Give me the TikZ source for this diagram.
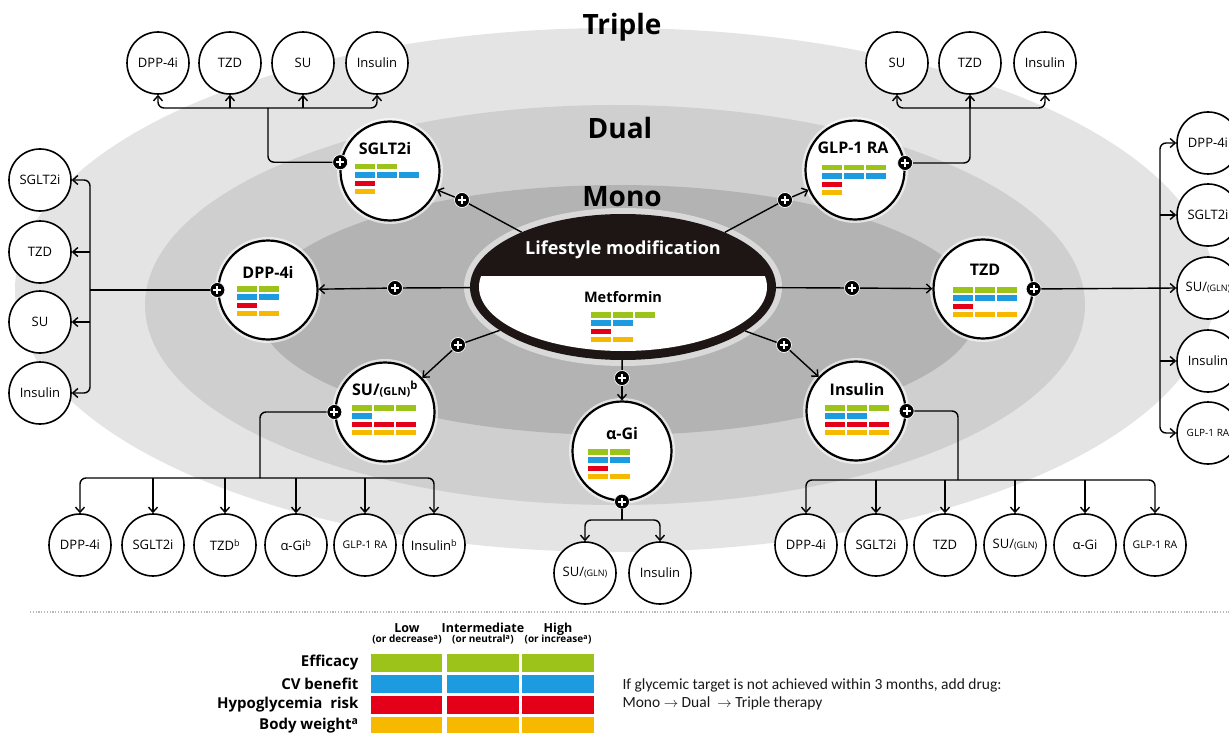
\documentclass[tikz,border=0pt]{standalone}
\usepackage{fontspec}
\setmainfont{Open Sans}
\newfontfamily\calib{Carlito}
\usetikzlibrary{arrows.meta,shapes.geometric}
\definecolor{cgreen}{HTML}{9CC31A}
\definecolor{cblue}{HTML}{1C9BE0}
\definecolor{cred}{HTML}{E5001A}
\definecolor{cyellow}{HTML}{F7B900}
\definecolor{gTriple}{HTML}{E4E4E4}
\definecolor{gDual}{HTML}{CFCFCF}
\definecolor{gMono}{HTML}{B3B3B3}
\definecolor{lmblack}{HTML}{1E1615}
\tikzset{
 maincirc/.style={circle, draw=black, line width=2.2pt, fill=white, minimum size=99pt, inner sep=0,
   preaction={draw=white, line width=7pt, opacity=0.6}},
 smallcirc/.style={circle, draw=black, line width=1.6pt, fill=white, minimum size=62pt, inner sep=0,
   font=\fontsize{13}{15}\selectfont},
 plusnode/.style={circle, fill=black, draw=white, line width=0.7pt, minimum size=15pt, inner sep=0,
   path picture={\draw[white, line width=2pt]
     ([xshift=-4pt]path picture bounding box.center) -- ([xshift=4pt]path picture bounding box.center)
     ([yshift=-4pt]path picture bounding box.center) -- ([yshift=4pt]path picture bounding box.center);}},
 conn/.style={line width=1.4pt, black},
 arr/.style={conn, -{Straight Barb[length=5pt,width=9pt,line width=1.4pt]}},
 drugtitle/.style={font=\bfseries\fontsize{16}{18}\selectfont},
 band/.style={font=\bfseries\fontsize{28}{30}\selectfont},
 hdr/.style={font=\bfseries\fontsize{12.5}{13}\selectfont, align=center},
 rowlab/.style={font=\bfseries\fontsize{15}{17}\selectfont, anchor=east},
 note/.style={anchor=west, font=\calib\fontsize{15.5}{17}\selectfont, text=black!90},
}
\newcommand\drugbars[6]{%
  \foreach \bn/\bc/\br in {#3/cgreen/0,#4/cblue/1,#5/cred/2,#6/cyellow/3}{%
    \foreach \bk in {1,...,\bn}{%
      \fill[\bc] ({#1+(\bk-1)*22},{#2+\br*8.3}) rectangle ++(19.5,5.5);}}}
\newcommand\smallsub[1]{{\fontsize{9}{10}\selectfont #1}}
\newcommand\hsub[1]{{\fontsize{10}{11}\selectfont #1}}
\begin{document}
\begin{tikzpicture}[x=1pt,y=-1pt]
\useasboundingbox (0,0) rectangle (1229,733);
\clip (0,0) rectangle (1229,733);
\fill[white] (0,0) rectangle (1229,733);
% background bands
\fill[gTriple] (615,290) ellipse [x radius=600, y radius=262];
\fill[gDual] (615,305) ellipse [x radius=470, y radius=200];
\fill[gMono] (618,310) ellipse [x radius=360, y radius=125];
\node[band] (tTriple) at (622,27) {Triple};
\node[band] (tDual) at (620,128) {Dual};
\node[band] (tMono) at (622,197) {Mono};

% central ellipse
\fill[white, opacity=0.5] (623,287) ellipse [x radius=159, y radius=79];
\node[ellipse, minimum width=306pt, minimum height=146pt, inner sep=0] (lm) at (623,287) {};
\fill[lmblack] (lm.center) ellipse [x radius=153, y radius=73];
\begin{scope}
  \clip (lm.center) ellipse [x radius=144, y radius=64];
  \fill[white] (460,276) rectangle (790,370);
\end{scope}
\node[font=\bfseries\fontsize{18}{20}\selectfont, text=white] (lmt) at (623,250) {Lifestyle modification};
\node[font=\bfseries\fontsize{14.5}{16}\selectfont] (met) at (623,297) {Metformin};
\drugbars{591}{312}{3}{2}{1}{2}

% main drug circles
\node[maincirc] (sglt) at (390,171) {};
\node[drugtitle] (sgltT) at (385,148) {SGLT2i};
\drugbars{355}{164}{2}{3}{1}{1}
\node[maincirc] (glp) at (855,170) {};
\node[drugtitle] (glpT) at (853,148) {GLP-1 RA};
\drugbars{822}{165}{3}{3}{1}{1}
\node[maincirc] (dpp) at (268,290) {};
\node[drugtitle] (dppT) at (268,272) {DPP-4i};
\drugbars{237}{286}{2}{2}{1}{2}
\node[maincirc] (tzd) at (983,289) {};
\node[drugtitle] (tzdT) at (985,270) {TZD};
\drugbars{953}{287}{3}{3}{1}{3}
\node[maincirc] (su) at (385,412) {};
\node[drugtitle] (suT) at (385,389) {SU/{\fontsize{11}{12}\selectfont(GLN)}\textsuperscript{b}};
\drugbars{352}{405}{3}{1}{3}{3}
\node[maincirc] (agi) at (622,451) {};
\node[drugtitle] (agiT) at (622,433) {α-Gi};
\drugbars{588}{449}{2}{2}{1}{2}
\node[maincirc] (ins) at (856,411) {};
\node[drugtitle] (insT) at (857,389) {Insulin};
\drugbars{825}{405}{3}{2}{3}{3}

% plus markers on connectors from the centre
\node[plusnode] (pS1) at (462,200) {};
\node[plusnode] (pG1) at (785,200) {};
\node[plusnode] (pD1) at (395,288) {};
\node[plusnode] (pT1) at (852,288) {};
\node[plusnode] (pU1) at (458,345) {};
\node[plusnode] (pI1) at (784,345) {};
\node[plusnode] (pA1) at (622,378) {};
\draw[conn] (lm) -- (pS1); \draw[arr] (pS1) -- (sglt);
\draw[conn] (lm) -- (pG1); \draw[arr] (pG1) -- (glp);
\draw[conn] (lm) -- (pD1); \draw[arr] (pD1) -- (dpp);
\draw[conn] (lm) -- (pT1); \draw[arr] (pT1) -- (tzd);
\draw[conn] (lm) -- (pU1); \draw[arr] (pU1) -- (su);
\draw[conn] (lm) -- (pI1); \draw[arr] (pI1) -- (ins);
\draw[conn] (lm) -- (pA1); \draw[arr] (pA1) -- (agi);

% plus markers on the circles
\node[plusnode] (pS2) at (sglt.170) {};
\node[plusnode] (pG2) at (glp.8) {};
\node[plusnode] (pD2) at (dpp.west) {};
\node[plusnode] (pT2) at (tzd.east) {};
\node[plusnode] (pU2) at (su.west) {};
\node[plusnode] (pI2) at (ins.east) {};
\node[plusnode] (pA2) at (agi.south) {};

% top-left group
\node[smallcirc] (tl1) at (158,63) {DPP-4i};
\node[smallcirc] (tl2) at (230,63) {TZD};
\node[smallcirc] (tl3) at (303,63) {SU};
\node[smallcirc] (tl4) at (377,63) {Insulin};
\coordinate (tlj) at (268,108);
\draw[conn, rounded corners=6] (pS2) -| (tlj);
\draw[arr, rounded corners=6] (tlj) -| (tl1.south);
\draw[arr, rounded corners=6] (tlj) -| (tl4.south);
\draw[arr] (tlj -| tl2) -- (tl2.south);
\draw[arr] (tlj -| tl3) -- (tl3.south);

% top-right group
\node[smallcirc] (tr1) at (897,63) {SU};
\node[smallcirc] (tr2) at (970,63) {TZD};
\node[smallcirc] (tr3) at (1045,63) {Insulin};
\coordinate (trj) at (970,108);
\draw[conn, rounded corners=6] (pG2) -| (trj);
\draw[arr] (trj) -- (tr2.south);
\draw[arr, rounded corners=6] (trj) -| (tr1.south);
\draw[arr, rounded corners=6] (trj) -| (tr3.south);

% left group
\node[smallcirc] (l1) at (40,180) {SGLT2i};
\node[smallcirc] (l2) at (40,252) {TZD};
\node[smallcirc] (l3) at (40,322) {SU};
\node[smallcirc] (l4) at (40,393) {Insulin};
\coordinate (lj) at (90,290);
\draw[conn] (pD2) -- (lj);
\draw[arr, rounded corners=6] (lj) |- (l1.east);
\draw[arr, rounded corners=6] (lj) |- (l4.east);
\draw[arr] (lj |- l2) -- (l2.east);
\draw[arr] (lj |- l3) -- (l3.east);

% right group (cut by the right edge, as in the original)
\node[smallcirc] (r1) at (1208,143) {DPP-4i};
\node[smallcirc] (r2) at (1208,215) {SGLT2i};
\node[smallcirc] (r3) at (1208,288) {SU/\smallsub{(GLN)}};
\node[smallcirc] (r4) at (1208,361) {Insulin};
\node[smallcirc, font=\fontsize{10}{12}\selectfont] (r5) at (1208,433) {GLP-1 RA};
\coordinate (rj) at (1160,289);
\draw[arr] (pT2) -- (r3.west);
\draw[arr, rounded corners=6] (rj) |- (r1.west);
\draw[arr, rounded corners=6] (rj) |- (r5.west);
\draw[arr] (rj |- r2) -- (r2.west);
\draw[arr] (rj |- r4) -- (r4.west);

% bottom-left group
\node[smallcirc] (b1) at (80,545) {DPP-4i};
\node[smallcirc] (b2) at (153,545) {SGLT2i};
\node[smallcirc] (b3) at (225,545) {TZD\textsuperscript{b}};
\node[smallcirc] (b4) at (296,545) {α-Gi\textsuperscript{b}};
\node[smallcirc, font=\fontsize{10.5}{12}\selectfont] (b5) at (365,545) {GLP-1 RA};
\node[smallcirc] (b6) at (434,545) {Insulin\textsuperscript{b}};
\coordinate (blj) at (260,478);
\draw[conn, rounded corners=6] (pU2) -| (blj);
\draw[arr, rounded corners=6] (blj) -| (b1.north);
\draw[arr, rounded corners=6] (blj) -| (b6.north);
\draw[arr] (blj -| b2) -- (b2.north);
\draw[arr] (blj -| b3) -- (b3.north);
\draw[arr] (blj -| b4) -- (b4.north);
\draw[arr] (blj -| b5) -- (b5.north);

% bottom-middle group
\node[smallcirc] (m1) at (585,573) {SU/\smallsub{(GLN)}};
\node[smallcirc] (m2) at (660,573) {Insulin};
\coordinate (mj) at (622,520);
\draw[conn] (pA2) -- (mj);
\draw[arr, rounded corners=6] (mj) -| (m1.north);
\draw[arr, rounded corners=6] (mj) -| (m2.north);

% bottom-right group
\node[smallcirc] (c1) at (806,545) {DPP-4i};
\node[smallcirc] (c2) at (876,545) {SGLT2i};
\node[smallcirc] (c3) at (945,545) {TZD};
\node[smallcirc] (c4) at (1015,545) {SU/\smallsub{(GLN)}};
\node[smallcirc] (c5) at (1085,545) {α-Gi};
\node[smallcirc, font=\fontsize{10.5}{12}\selectfont] (c6) at (1155,545) {GLP-1 RA};
\coordinate (crj) at (958,480);
\draw[conn, rounded corners=6] (pI2) -| (crj);
\draw[arr, rounded corners=6] (crj) -| (c1.north);
\draw[arr, rounded corners=6] (crj) -| (c6.north);
\draw[arr] (crj -| c2) -- (c2.north);
\draw[arr] (crj -| c3) -- (c3.north);
\draw[arr] (crj -| c4) -- (c4.north);
\draw[arr] (crj -| c5) -- (c5.north);

% legend
\draw[gray!55, line width=1.2pt, dash pattern=on 1.2pt off 1.6pt] (30,612) -- (1229,612);
\node[hdr] (hLow) at (407,634) {Low\\[-3pt]\hsub{(or decrease\textsuperscript{a})}};
\node[hdr] (hMid) at (483,634) {Intermediate\\[-3pt]\hsub{(or neutral\textsuperscript{a})}};
\node[hdr] (hHigh) at (558,634) {High\\[-3pt]\hsub{(or increase\textsuperscript{a})}};
\foreach \ry/\rc in {654/cgreen,675/cblue,696/cred,717/cyellow}{
  \fill[\rc] (371,\ry) rectangle (442,\ry+18);
  \fill[\rc] (447,\ry) rectangle (519,\ry+18);
  \fill[\rc] (522,\ry) rectangle (594,\ry+18);
}
\node[rowlab] (lEff) at (362,663) {Efficacy};
\node[rowlab] (lCV) at (362,684) {CV benefit};
\node[rowlab] (lHyp) at (362,705) {Hypoglycemia\ \ risk};
\node[rowlab] (lBW) at (362,726) {Body weight\textsuperscript{a}};
\node[note] (note1) at (619,685) {If glycemic target is not achieved within 3 months, add drug:};
\node[note] (note2) at (619,703) {Mono $\rightarrow$ Dual \ $\rightarrow$ Triple therapy};
\end{tikzpicture}
\end{document}
